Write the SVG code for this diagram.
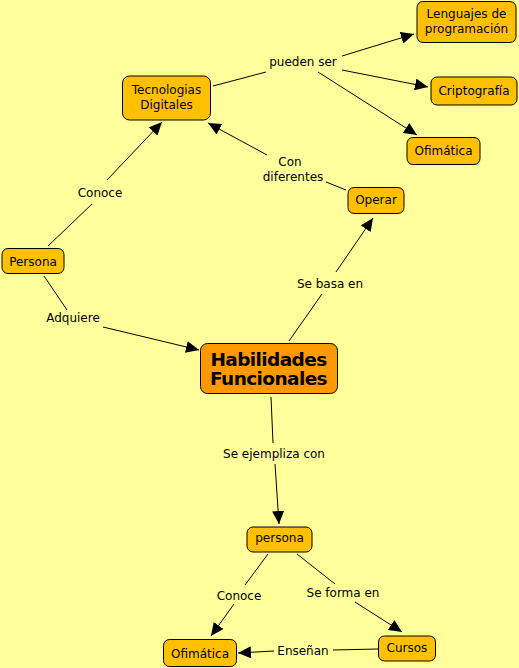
<svg xmlns="http://www.w3.org/2000/svg" width="519" height="668" viewBox="0 0 519 668">
<style>
.n rect{fill:#ffc000;stroke:#000;stroke-width:1}
.m rect{fill:#ff9900;stroke:#000;stroke-width:1}
text{font-family:"DejaVu Sans",Verdana,sans-serif;font-size:12px;fill:#000;text-anchor:middle}
.m text{font-size:18.5px;font-weight:bold;letter-spacing:-0.6px}
.c line{stroke:#000;stroke-width:1}
.lbl text{fill:#000}
</style>
<defs>
<marker id="a" markerUnits="userSpaceOnUse" markerWidth="14" markerHeight="12" refX="13" refY="6" orient="auto">
<path d="M0,0 L13,6 L0,12 Z" fill="#000"/>
</marker>
</defs>
<rect width="519" height="668" fill="#ffff9c"/>
<g class="c">
<line x1="213" y1="86" x2="266" y2="72"/>
<line x1="342" y1="56" x2="414" y2="34" marker-end="url(#a)"/>
<line x1="342" y1="70" x2="428" y2="87" marker-end="url(#a)"/>
<line x1="318" y1="72" x2="417" y2="135" marker-end="url(#a)"/>
<line x1="48" y1="246" x2="92" y2="204"/>
<line x1="107" y1="180" x2="162" y2="122" marker-end="url(#a)"/>
<line x1="346" y1="190" x2="326" y2="182"/>
<line x1="267" y1="155" x2="208" y2="123" marker-end="url(#a)"/>
<line x1="44" y1="276" x2="67" y2="310"/>
<line x1="103" y1="327" x2="199" y2="350" marker-end="url(#a)"/>
<line x1="289" y1="341" x2="322" y2="294"/>
<line x1="336" y1="272" x2="373" y2="218" marker-end="url(#a)"/>
<line x1="271" y1="397" x2="273" y2="443"/>
<line x1="275" y1="464" x2="279" y2="524" marker-end="url(#a)"/>
<line x1="268" y1="554" x2="245" y2="585"/>
<line x1="234" y1="604" x2="211" y2="636" marker-end="url(#a)"/>
<line x1="297" y1="554" x2="335" y2="584"/>
<line x1="355" y1="602" x2="402" y2="632" marker-end="url(#a)"/>
<line x1="378" y1="649" x2="333" y2="650"/>
<line x1="274" y1="651" x2="238" y2="653" marker-end="url(#a)"/>
</g>
<g class="lbl">
<text x="303" y="66">pueden ser</text>
<text x="290" y="166">Con</text>
<text x="293" y="181">diferentes</text>
<text x="100" y="197">Conoce</text>
<text x="73" y="322">Adquiere</text>
<text x="330" y="288">Se basa en</text>
<text x="274" y="458">Se ejempliza con</text>
<text x="239" y="600">Conoce</text>
<text x="343" y="597">Se forma en</text>
<text x="303" y="655">Enseñan</text>
</g>
<g id="lenguajes" class="n"><rect x="417" y="1.5" width="99" height="41" rx="6"/><text x="466.5" y="18">Lenguajes de</text><text x="466.5" y="33">programación</text></g>
<g id="criptografia" class="n"><rect x="431" y="77" width="86" height="28" rx="6"/><text x="474" y="95">Criptografía</text></g>
<g id="ofimatica1" class="n"><rect x="407" y="137.5" width="73" height="27" rx="6"/><text x="443.5" y="155">Ofimática</text></g>
<g id="tecnologias" class="n"><rect x="122.5" y="76" width="88" height="44" rx="7"/><text x="166.5" y="94">Tecnologias</text><text x="166.5" y="109">Digitales</text></g>
<g id="operar" class="n"><rect x="348" y="187.5" width="56" height="26" rx="6"/><text x="376" y="204">Operar</text></g>
<g id="persona1" class="n"><rect x="2" y="248.5" width="62" height="25" rx="6"/><text x="33" y="266">Persona</text></g>
<g id="habilidades" class="m"><rect x="200.5" y="343.5" width="137" height="50" rx="7"/><text x="268.5" y="366">Habilidades</text><text x="268.5" y="385">Funcionales</text></g>
<g id="persona2" class="n"><rect x="247" y="527" width="65" height="25" rx="6"/><text x="279.5" y="542">persona</text></g>
<g id="ofimatica2" class="n"><rect x="163.5" y="639.5" width="73" height="27" rx="6"/><text x="200" y="658">Ofimática</text></g>
<g id="cursos" class="n"><rect x="378.5" y="636" width="57" height="25" rx="6"/><text x="407" y="652">Cursos</text></g>
</svg>
